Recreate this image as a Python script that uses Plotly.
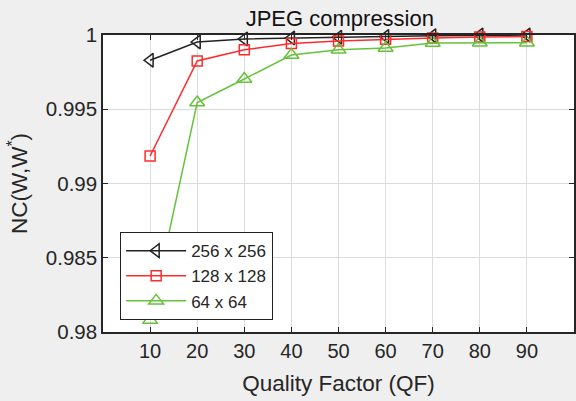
import plotly.graph_objects as go

qf = [10, 20, 30, 40, 50, 60, 70, 80, 90]
nc_256 = [0.9983, 0.99953, 0.99973, 0.9998, 0.99985, 0.9999, 0.99995, 1.0, 1.0]
nc_128 = [0.99185, 0.99825, 0.9990, 0.99942, 0.9996, 0.99972, 0.9998, 0.99987, 0.9999]
nc_64 = [0.9808, 0.99545, 0.99704, 0.99865, 0.9990, 0.99912, 0.99946, 0.99948, 0.99948]
series_names = ["256 x 256", "128 x 128", "64 x 64"]

x_ticks = [10, 20, 30, 40, 50, 60, 70, 80, 90]
y_ticks = [0.98, 0.985, 0.99, 0.995, 1.0]
y_tick_text = ["0.98", "0.985", "0.99", "0.995", "1"]

FONT = "Liberation Sans, Arial, sans-serif"

fig = go.Figure()
fig.add_trace(go.Scatter(
    x=qf, y=nc_256, name=series_names[0], mode="lines+markers",
    line=dict(color="#222222", width=1.5),
    marker=dict(symbol="triangle-left-open", size=12, color="#222222", line=dict(width=1.5)),
    cliponaxis=False))
fig.add_trace(go.Scatter(
    x=qf, y=nc_128, name=series_names[1], mode="lines+markers",
    line=dict(color="#ff2a2a", width=1.5),
    marker=dict(symbol="square-open", size=10, color="#ff2a2a", line=dict(width=1.5)),
    cliponaxis=False))
fig.add_trace(go.Scatter(
    x=qf, y=nc_64, name=series_names[2], mode="lines+markers",
    line=dict(color="#66c23a", width=1.5),
    marker=dict(symbol="triangle-up-open", size=13, color="#66c23a", line=dict(width=1.5)),
    cliponaxis=False))

fig.update_layout(
    width=576, height=401,
    margin=dict(l=103, r=0, t=35, b=69),
    paper_bgcolor="#efefef", plot_bgcolor="white",
    font=dict(family=FONT, size=20, color="#262626"),
    title=dict(text="JPEG compression", x=0.59, xanchor="center", y=0.955, yanchor="middle",
               font=dict(family=FONT, size=22, color="#111111")),
    showlegend=True,
    legend=dict(x=0.036, y=0.337, xanchor="left", yanchor="top",
                bgcolor="white", bordercolor="#222222", borderwidth=1.2,
                font=dict(family=FONT, size=17, color="#262626"),
                tracegroupgap=0, itemsizing="trace", itemwidth=60),
)
fig.update_xaxes(
    range=[0, 100], tickvals=x_ticks, ticktext=[str(v) for v in x_ticks],
    showgrid=True, gridcolor="#dcdcdc", gridwidth=1,
    showline=True, linecolor="#262626", linewidth=1.5, mirror="ticks",
    ticks="inside", ticklen=5, tickcolor="#262626",
    tickfont=dict(size=20), zeroline=False,
    title=dict(text="Quality Factor (QF)", font=dict(size=22.5), standoff=14),
)
fig.update_yaxes(
    range=[0.98, 1.0], tickvals=y_ticks, ticktext=y_tick_text,
    showgrid=True, gridcolor="#dcdcdc", gridwidth=1,
    showline=True, linecolor="#262626", linewidth=1.5, mirror="ticks",
    ticks="inside", ticklen=5, tickcolor="#262626",
    tickfont=dict(size=20.5), zeroline=False,
    title=dict(text="NC(W,W<sup>*</sup>)", font=dict(size=22.5), standoff=12),
)

fig.write_html("out.html")
